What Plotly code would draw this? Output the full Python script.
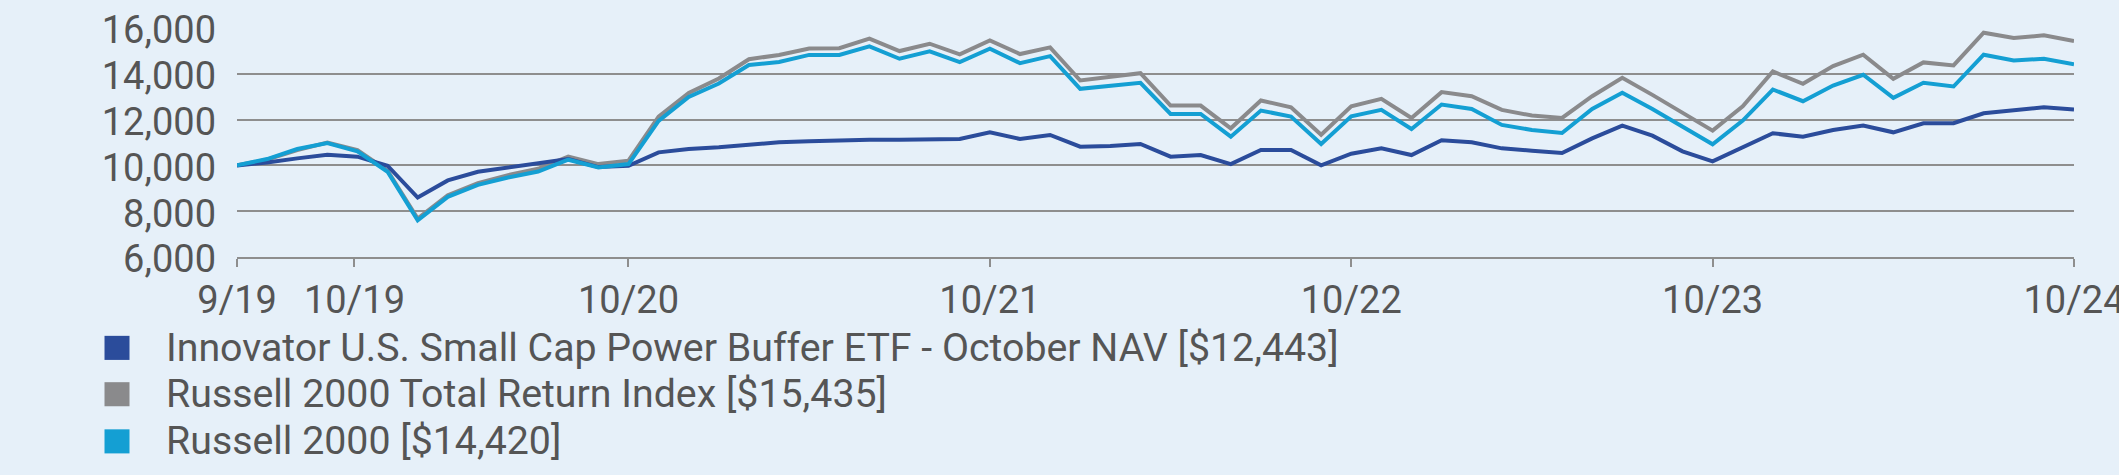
import plotly.graph_objects as go

# ---- data ----
tick_positions = [0, 3.9, 13, 25, 37, 49, 61]
tick_labels = ["9/19", "10/19", "10/20", "10/21", "10/22", "10/23", "10/24"]

series_names = [
    "Innovator U.S. Small Cap Power Buffer ETF - October NAV [$12,443]",
    "Russell 2000 Total Return Index [$15,435]",
    "Russell 2000 [$14,420]",
]

fund = [10000, 10131, 10307, 10467, 10380, 9985, 8598, 9343, 9723, 9912,
        10070, 10277, 9927, 9985, 10570, 10716, 10789, 10891, 11008, 11051,
        11095, 11124, 11124, 11139, 11153, 11445, 11153, 11329, 10818, 10847,
        10934, 10380, 10453, 10058, 10672, 10672, 10000, 10511, 10745, 10453,
        11100, 11007, 10745, 10643, 10540, 11182, 11737, 11299, 10613, 10175,
        10788, 11402, 11256, 11548, 11737, 11445, 11840, 11840, 12278, 12394,
        12540, 12443]

r2000_tr = [10000, 10250, 10670, 11000, 10670, 9766, 7679, 8700, 9226, 9577,
            9850, 10380, 10058, 10204, 12132, 13168, 13796, 14635, 14825, 15102,
            15117, 15533, 14993, 15314, 14847, 15460, 14862, 15153, 13708, 13854,
            14029, 12613, 12613, 11621, 12832, 12540, 11343, 12584, 12905, 12073,
            13200, 13022, 12424, 12175, 12073, 13022, 13825, 13080, 12292, 11519,
            12584, 14103, 13562, 14336, 14833, 13781, 14497, 14365, 15796, 15563,
            15679, 15435]

r2000 = [10000, 10277, 10715, 10978, 10613, 9723, 7606, 8628, 9153, 9474,
         9730, 10248, 9912, 10058, 11943, 12993, 13577, 14386, 14518, 14825,
         14825, 15198, 14657, 14979, 14511, 15095, 14467, 14773, 13343, 13489,
         13606, 12248, 12248, 11256, 12394, 12132, 10934, 12146, 12424, 11592,
         12660, 12467, 11767, 11548, 11416, 12467, 13168, 12467, 11708, 10920,
         11956, 13314, 12803, 13489, 13957, 12949, 13606, 13445, 14833, 14584,
         14657, 14420]

colors = ["#2b4c9b", "#8a8a8c", "#149fd3"]
BG = "#e6f0f9"
TXT = "#555555"
GRID = "#8e8e8e"

W, H = 2119, 475
L, R, T, B = 236.5, 2073.6, 28.4, 256.7

x = list(range(len(fund)))

fig = go.Figure()
for vals, c in [(r2000_tr, colors[1]), (fund, colors[0]), (r2000, colors[2])]:
    fig.add_trace(go.Scatter(x=x, y=vals, mode="lines",
                             line=dict(color=c, width=4),
                             showlegend=False, hoverinfo="skip"))

def px2xp(px):
    return (px - L) / (R - L)

def px2yp(py):
    return (B - py) / (B - T)

shapes = []
annotations = []
legend_y = [347.3, 393.5, 440.5]
for name, c, yc in zip(series_names, colors, legend_y):
    shapes.append(dict(type="rect", xref="paper", yref="paper",
                       x0=px2xp(104), x1=px2xp(129),
                       y0=px2yp(yc + 12), y1=px2yp(yc - 12),
                       fillcolor=c, line=dict(width=0)))
    annotations.append(dict(text=name, xref="paper", yref="paper",
                            x=px2xp(163), y=px2yp(yc),
                            xanchor="left", yanchor="middle",
                            showarrow=False,
                            font=dict(family="Roboto", size=39.3, color=TXT)))

fig.update_layout(
    width=W, height=H,
    margin=dict(l=L, r=W - R, t=T, b=H - B, pad=0, autoexpand=False),
    paper_bgcolor=BG, plot_bgcolor=BG,
    font=dict(family="Roboto", color=TXT),
    shapes=shapes, annotations=annotations,
    showlegend=False,
)
fig.update_xaxes(range=[0, 61], tickmode="array", tickvals=tick_positions,
                 ticktext=tick_labels, showgrid=False, zeroline=False,
                 showline=True, linecolor=GRID, linewidth=1.5,
                 ticks="outside", ticklen=8, tickcolor=GRID, tickwidth=1.5,
                 tickfont=dict(family="Roboto", size=38, color=TXT),
                 ticklabelstandoff=1, ticklabeloverflow="allow",
                 automargin=False)
fig.update_yaxes(range=[6000, 16000], tickvals=[6000, 8000, 10000, 12000, 14000, 16000],
                 tickformat=",d", showgrid=True, gridcolor=GRID, gridwidth=1.5,
                 zeroline=False, showline=False, ticks="",
                 tickfont=dict(family="Roboto", size=38, color=TXT),
                 ticklabelstandoff=20, ticklabelshift=2, automargin=False)

fig.write_html("out.html")
